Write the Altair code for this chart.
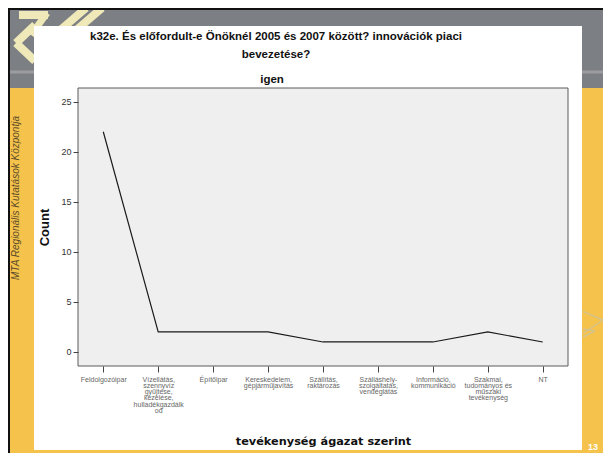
import altair as alt
import pandas as pd

categories = [
    "Feldolgozóipar",
    "Vízellátás,\nszennyvíz\ngyűjtése,\nkezelése,\nhulladékgazdálk\nod",
    "Építőipar",
    "Kereskedelem,\ngépjárműjavítás",
    "Szállítás,\nraktározás",
    "Szálláshely-\nszolgáltatás,\nvendéglátás",
    "Információ,\nkommunikáció",
    "Szakmai,\ntudományos és\nműszaki\ntevékenység",
    "NT",
]
counts = [22, 2, 2, 2, 1, 1, 1, 2, 1]
y_ticks = [0, 5, 10, 15, 20, 25]

title_lines = ["k32e. És előfordult-e Önöknél 2005 és 2007 között? innovációk piaci", "bevezetése?"]
subtitle = "igen"
x_title = "tevékenység ágazat szerint"
y_title = "Count"
side_text = "MTA Regionális Kutatások Központja"
page_no = "13"

df = pd.DataFrame({"cat": categories, "count": counts})
one = pd.DataFrame({"k": [0]})

W, H = 490, 278
OX, OY = 78, 88  # page position of plot origin


def P(x, y):
    return x - OX + 0.001, y - OY + 0.001


def rect(x1, y1, x2, y2, **kw):
    a, b = P(x1, y1)
    c, d = P(x2, y2)
    return alt.Chart(one).mark_rect(**kw).encode(
        x=alt.value(a), x2=alt.value(c), y=alt.value(b), y2=alt.value(d)
    )


def seg(x1, y1, x2, y2, **kw):
    a, b = P(x1, y1)
    c, d = P(x2, y2)
    return alt.Chart(one).mark_rule(**kw).encode(
        x=alt.value(a), x2=alt.value(c), y=alt.value(b), y2=alt.value(d)
    )


def txt(s, x, y, **kw):
    a, b = P(x, y)
    return alt.Chart(one).mark_text(**kw).encode(
        x=alt.value(a), y=alt.value(b), text=alt.value(s)
    )


gray = "#7c7f83"
yellow = "#f5c34c"
pale = "#efe8b8"
deco = [
    rect(8, 88, 620, 470, fill=yellow, strokeWidth=0),
    rect(8, 70.5, 620, 73.5, fill="#9a9c9f", strokeWidth=0),
    seg(16, 43, 35, 25, color=pale, strokeWidth=8),
    seg(16, 43, 35, 61, color=pale, strokeWidth=8),
    seg(19, 15, 48, 15, color=pale, strokeWidth=8),
    seg(47, 13, 31, 35, color=pale, strokeWidth=7),
    seg(58, 32, 86, 8, color=pale, strokeWidth=8),
    seg(74, 32, 102, 8, color=pale, strokeWidth=8),
    rect(34, 26, 582, 450, fill="white", strokeWidth=0),
    rect(8, 8, 620, 10, fill="#111111", strokeWidth=0),
    rect(8, 8, 10, 470, fill="#111111", strokeWidth=0),
    seg(583, 311.5, 603, 320, color="#d6c289", strokeWidth=1.5),
    seg(603, 320, 583, 333.5, color="#d6c289", strokeWidth=1.5),
    seg(583, 329, 595, 331, color="#d6c289", strokeWidth=1.5),
    seg(595, 331, 583, 337, color="#d6c289", strokeWidth=1.5),
    txt(side_text, 16, 198, angle=270, fontSize=10, fontStyle="italic",
        font="Liberation Sans", color="#5c4b28", align="center", baseline="middle"),
    txt(page_no, 593, 443, fontSize=9, fontWeight="bold", font="Liberation Sans",
        color="white", align="center", baseline="top"),
    rect(78, 88, 568, 366, fill="#efefef", stroke="#5a5a5a", strokeWidth=1),
    txt(title_lines[0], 276, 37, fontSize=11.5, fontWeight="bold", font="Liberation Sans",
        color="#111111", align="center", baseline="middle"),
    txt(title_lines[1], 276, 55, fontSize=11.5, fontWeight="bold", font="Liberation Sans",
        color="#111111", align="center", baseline="middle"),
    txt(subtitle, 272, 80, fontSize=11.5, fontWeight="bold", font="Liberation Sans",
        color="#111111", align="center", baseline="middle"),
]

line = alt.Chart(df).mark_line(color="#1a1a1a", strokeWidth=1.2).encode(
    x=alt.X(
        "cat:N",
        sort=categories,
        scale=alt.Scale(type="point", padding=0.46, domain=categories),
        axis=alt.Axis(
            title=x_title, titleFont="DejaVu Sans", titleFontSize=11.3, titleFontWeight="bold",
            titleColor="#111111", titleX=245, titleY=75, titleBaseline="middle",
            labelAngle=0, labelFont="Liberation Sans", labelFontSize=7, labelColor="#666666",
            labelExpr="split(datum.label, '\\n')", labelLineHeight=6.3, labelBaseline="top",
            labelPadding=3, labelLimit=0, tickSize=6, tickColor="#444444",
            domain=False, grid=False, zindex=1,
        ),
    ),
    y=alt.Y(
        "count:Q",
        scale=alt.Scale(domain=[-1.4, 26.37], nice=False, zero=False),
        axis=alt.Axis(
            title=y_title, titleFont="Liberation Sans", titleFontSize=13, titleFontWeight="bold",
            titleColor="#111111", titleX=-34, titleY=139, titleBaseline="middle",
            values=y_ticks, labelFont="Liberation Sans", labelFontSize=9, labelColor="#333333",
            labelPadding=2, tickSize=5, tickColor="#444444",
            domain=False, grid=False, zindex=1,
        ),
    ),
)

chart = alt.layer(*deco, line).properties(
    width=W, height=H,
    autosize=alt.AutoSizeParams(type="none"),
    padding={"left": 70, "top": 80, "right": 35, "bottom": 87},
).configure(background=gray).configure_view(stroke=None)

chart.save("out.html", embed_options={"renderer": "svg", "actions": False})
